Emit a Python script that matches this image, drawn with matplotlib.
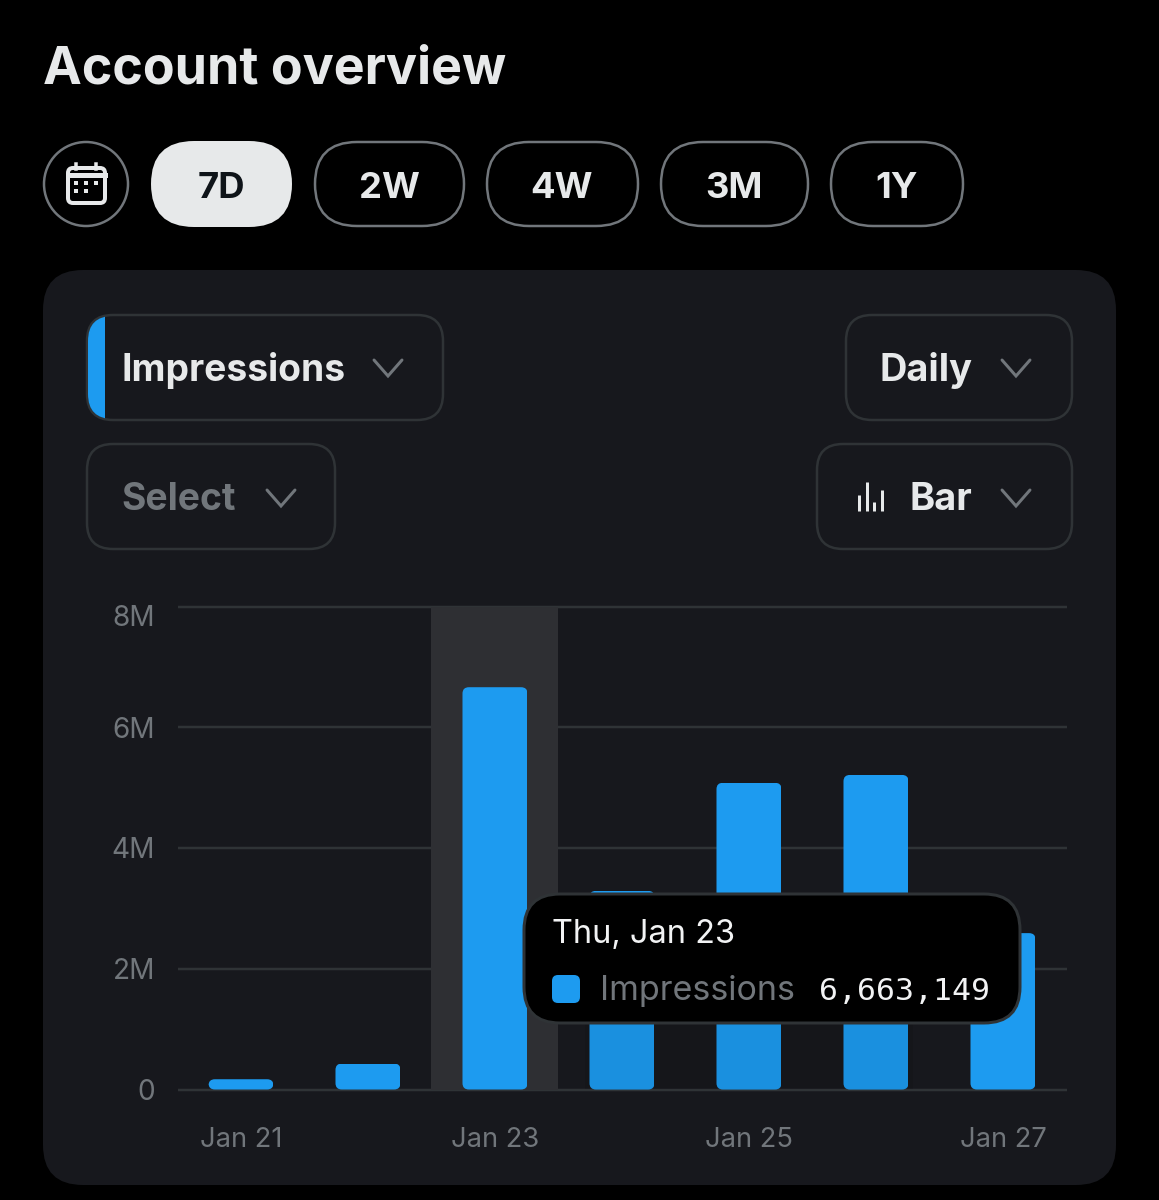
import matplotlib
matplotlib.use("Agg")
import matplotlib.pyplot as plt
from matplotlib.patches import FancyBboxPatch, Circle, Rectangle
from matplotlib.ticker import FixedLocator
from matplotlib.transforms import ScaledTranslation

days = ["Jan 21", "Jan 22", "Jan 23", "Jan 24", "Jan 25", "Jan 26", "Jan 27"]
impressions = [170000, 430000, 6663149, 3290000, 5080000, 5210000, 2590000]
y_ticks = [0, 2000000, 4000000, 6000000, 8000000]
y_tick_labels = ["0", "2M", "4M", "6M", "8M"]
x_tick_days = [0, 2, 4, 6]
ranges = ["7D", "2W", "4W", "3M", "1Y"]
highlight_day = 2

W, H = 1159, 1200
BLUE = "#1D9BF0"
GREY = "#71767B"
LIGHT = "#E7E9EA"
BORDER = "#2F3336"
PANEL = "#17181D"
FONT = "Inter"

plt.rcParams["font.family"] = [FONT, "DejaVu Sans"]


def pt(px):
    # sizes below are measured in image pixels
    return px * 0.72


def box(ax, x0, y0, x1, y1, r, face="none", edge="none", lw=2.5, **kw):
    p = FancyBboxPatch((x0, y0), x1 - x0, y1 - y0,
                       boxstyle=f"round,pad=0,rounding_size={r}",
                       facecolor=face, edgecolor=edge, linewidth=pt(lw), **kw)
    ax.add_patch(p)
    return p


def chevron(ax, x, y):
    ax.plot([x, x + 14, x + 28], [y, y + 16, y], color=GREY, lw=pt(3),
            solid_capstyle="round", solid_joinstyle="miter")


def label(ax, x, y, s, size, color=LIGHT, weight="bold", ha="left", family=None):
    return ax.text(x, y, s, fontsize=pt(size), color=color, fontweight=weight,
                   ha=ha, va="baseline", family=family or [FONT, "DejaVu Sans"])


def pixel_axes(fig, zorder):
    ax = fig.add_axes([0, 0, 1, 1], zorder=zorder)
    ax.set_xlim(0, W)
    ax.set_ylim(H, 0)
    ax.axis("off")
    ax.patch.set_alpha(0)
    return ax


fig = plt.figure(figsize=(W / 100, H / 100), dpi=100, facecolor="black")

# page furniture behind the chart
bg = pixel_axes(fig, 0)
label(bg, 43, 84, "Account overview", 52, weight="bold")

bg.add_patch(Circle((86, 184), 42, facecolor="none", edgecolor=GREY, linewidth=pt(2.5)))
box(bg, 68, 168, 105, 203, 5, edge=LIGHT, lw=4)
bg.plot([68, 105], [175, 175], color=LIGHT, lw=pt(5))
for tab_x in [76, 96]:
    bg.plot([tab_x, tab_x], [164, 169], color=LIGHT, lw=pt(3.5))
bg.plot([76, 86, 96, 76, 86], [183, 183, 183, 191, 191], ls="none", marker="s",
        ms=pt(5), color=LIGHT, mew=0)

pill_edges = [(151, 292), (315, 464), (487, 638), (661, 808), (831, 963)]
for i, (name, (x0, x1)) in enumerate(zip(ranges, pill_edges)):
    if i == 0:
        box(bg, x0, 141, x1, 227, 43, face=LIGHT)
        color = "#0F1419"
    else:
        box(bg, x0, 142, x1, 226, 42, edge=GREY)
        color = LIGHT
    label(bg, (x0 + x1) / 2 - 0.5, 197.5, name, 36.5, color=color, ha="center")

box(bg, 43, 270, 1116, 1185, 40, face=PANEL)

imp_box = box(bg, 87, 315, 443, 420, 26, edge=BORDER)
strip = bg.fill_between([87, 105], 313, 422, color=BLUE, lw=0)
strip.set_clip_path(box(bg, 88, 316, 443, 419, 25))
box(bg, 87, 444, 335, 549, 26, edge=BORDER)
box(bg, 846, 315, 1072, 420, 26, edge=BORDER)
box(bg, 817, 444, 1072, 549, 26, edge=BORDER)

label(bg, 122, 381, "Impressions", 37.2)
label(bg, 121, 510, "Select", 37.2, color=GREY)
label(bg, 880, 381, "Daily", 38)
label(bg, 910, 510, "Bar", 38)
chevron(bg, 374, 360)
chevron(bg, 267, 490)
chevron(bg, 1002, 360)
chevron(bg, 1002, 490)
for icon_x, icon_top in zip([859, 867, 874, 882], [495, 482, 502, 490]):
    bg.plot([icon_x, icon_x], [icon_top, 511], color=LIGHT, lw=pt(3), solid_capstyle="butt")

# the chart itself
ax = fig.add_axes([178 / W, 1 - 1089.5 / H, (1067 - 178) / W, (1089.5 - 606.5) / H], zorder=1)
ax.patch.set_alpha(0)
for spine in ax.spines.values():
    spine.set_visible(False)

xs = list(range(len(days)))
bar_w = 65 / 127
ax.set_xlim(-0.496, 6.504)
ax.set_ylim(0, 8000000)
ax.yaxis.set_major_locator(FixedLocator(y_ticks))
ax.set_yticklabels(y_tick_labels)
ax.set_xticks(x_tick_days)
ax.set_xticklabels([days[i] for i in x_tick_days])
ax.tick_params(axis="y", length=0, pad=pt(23), labelsize=pt(28), labelcolor=GREY)
ax.tick_params(axis="x", length=0, pad=pt(37.5), labelsize=pt(27.3), labelcolor=GREY)
ax.grid(axis="y", color=BORDER, lw=pt(2.5), zorder=1)
ax.set_axisbelow(True)
for gl in ax.get_ygridlines():
    gl.set_clip_on(False)
    gl.set_solid_capstyle("butt")
ax.axvspan(highlight_day - 0.5, highlight_day + 0.5, color="#2E2F33", lw=0, zorder=1.5)

bars = ax.bar(xs, impressions, width=bar_w, color=BLUE, zorder=2)
for rect in bars:
    rounded = FancyBboxPatch((rect.get_x(), 0), rect.get_width(), rect.get_height(),
                             boxstyle="round,pad=0,rounding_size=0.05",
                             mutation_aspect=8000000 / 483 * 127,
                             transform=ax.transData)
    rect.set_clip_path(rounded)

# the 8M label sits a little under its gridline
ax.get_yticklabels()[-1].set_transform(
    ax.get_yticklabels()[-1].get_transform() + ScaledTranslation(0, -pt(9.5) / 72, fig.dpi_scale_trans))

# tooltip on top, with its faint shadow over the bars below it
tip = pixel_axes(fig, 2)
tip.add_patch(Rectangle((585, 1023), 328, 66, facecolor="black", alpha=0.07, lw=0))
box(tip, 524, 894, 1020, 1023, 36, face="black", edge=BORDER, lw=3)
label(tip, 552, 943, f"Thu, {days[highlight_day]}", 32.5, color="#F2F3F4", weight="normal")
box(tip, 552, 975, 580, 1003, 6, face=BLUE)
label(tip, 600, 1000, "Impressions", 34, color=GREY, weight="normal")
label(tip, 990, 1000, f"{impressions[highlight_day]:,}", 31.5, color="#F2F3F4", weight="normal",
      ha="right", family=["DejaVu Sans Mono"])

fig.savefig("out.png", dpi=100, facecolor="black")
